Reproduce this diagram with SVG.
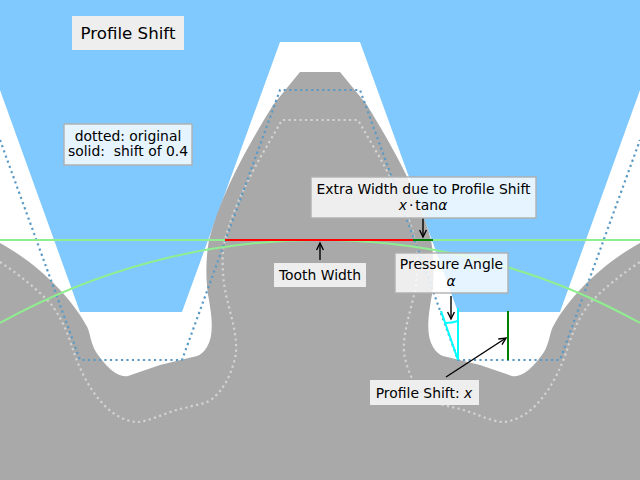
<svg xmlns="http://www.w3.org/2000/svg" width="640" height="480" viewBox="0 0 640 480">
<style>
text{font-family:"DejaVu Sans",sans-serif;font-size:13.9px;fill:#000;text-anchor:middle}
.m{font-style:italic}
.box{fill:#fff;fill-opacity:.8}
.plain{fill:#eee}
.edge{stroke:#b0b0b0;stroke-width:1.4}
.dotb{fill:none;stroke:#5a9ac5;stroke-width:2.2;stroke-dasharray:2.2 3.3}
.dotg{fill:none;stroke:#d3d3d3;stroke-width:2.2;stroke-dasharray:2.2 3.3}
.ln{fill:none;stroke-width:2}
.ar{fill:none;stroke:#000;stroke-width:1.4;marker-end:url(#a)}
</style>
<defs>
<marker id="a" markerUnits="userSpaceOnUse" markerWidth="12" markerHeight="12" refX="9" refY="6" orient="auto"><path d="M2,2.6L9,6L2,9.4" fill="none" stroke="#000" stroke-width="1.4"/></marker>
</defs>
<rect width="640" height="480" fill="#fff"/>
<g id="rack"><path d="M0,0H640V90L560,312H458L360,42H280L182,312H80L0,90Z" fill="#7fc9ff"/></g>
<g id="gear"><path fill="#a9a9a9" d="M0,243C35,262 70,295 86,325C90,330 90,342 96,352C103,362 115,378 128,376L160,365L197,356C200,355 204,352 207,347C214,335 212,318 209,300C206,285 205,262 209,240C222,190 250,143 273,105L300,72H340L367,105C390,143 418,190 431,240C435,262 434,285 431,300C428,318 426,335 433,347C436,352 440,355 443,356L480,365L512,376C525,378 537,362 544,352C550,342 550,330 554,325C570,295 605,262 640,243V480H0Z"/></g>
<g id="reference-profiles">
<path class="dotg" d="M0,262C18,274 36,288 50,303C60,315 68,333 73,350C79,368 90,392 107,408C117,417 128,422 138,422C150,421 165,413 180,409L205,403C222,396 233,372 236,353C237,335 232,320 228,303C223,285 222,268 223,250C228,220 245,185 260,158L282,120H358L380,158C395,185 412,220 417,250C418,268 417,285 412,303C408,320 403,335 404,353C407,372 418,396 435,403L460,409C475,413 490,421 502,422C512,422 523,417 533,408C550,392 561,368 567,350C572,333 580,315 590,303C604,288 622,274 640,262"/>
<path class="dotb" d="M0,140L80,360H182L280,90H360L458,360H560L640,140"/>
</g>
<g id="connectors">
<path class="ln" stroke="#90ee90" d="M0,240H640"/>
<path class="ln" stroke="#90ee90" d="M0,323A658,658 0 0 1 640,323"/>
<path class="ln" stroke="#f00" d="M225,240H413"/>
<path class="ln" stroke="#008000" d="M413,240H433"/>
<path class="ln" stroke="#008000" d="M508,311V360"/>
<path class="ln" stroke="#0ff" d="M458,308V360L441,311"/>
<path class="ln" stroke="#0ff" d="M445,323Q452,323 458,321"/>
<path class="ar" d="M320,260V243"/>
<path class="ar" d="M423,218V237"/>
<path class="ar" d="M451,296V319"/>
<path class="ar" d="M446,377L506,338"/>
</g>
<g id="title"><rect class="plain" x="72" y="16" width="112" height="34"/><text x="128" y="38.500" style="font-size:16.67px">Profile Shift</text></g>
<g id="note"><rect class="box edge" x="64" y="124" width="128" height="41"/><text x="128" y="140.500">dotted: original</text><text x="128" y="156" xml:space="preserve">solid:  shift of 0.4</text></g>
<g id="extra-width"><rect class="box edge" x="311" y="177" width="225" height="41"/><text x="423.500" y="193.500">Extra Width due to Profile Shift</text><text x="423" y="209.500"><tspan class="m">x</tspan><tspan dx="2">·</tspan><tspan dx="2">tan</tspan><tspan class="m">α</tspan></text></g>
<g id="pressure-angle"><rect class="box edge" x="395" y="253" width="113" height="40"/><text x="451.500" y="269">Pressure Angle</text><text x="451" y="286" class="m">α</text></g>
<g id="tooth-width"><rect class="plain" x="274" y="263" width="92" height="24"/><text x="320" y="280">Tooth Width</text></g>
<g id="profile-shift"><rect class="plain" x="370" y="380" width="109" height="25"/><text x="424" y="397.500">Profile Shift: <tspan class="m">x</tspan></text></g>
</svg>
